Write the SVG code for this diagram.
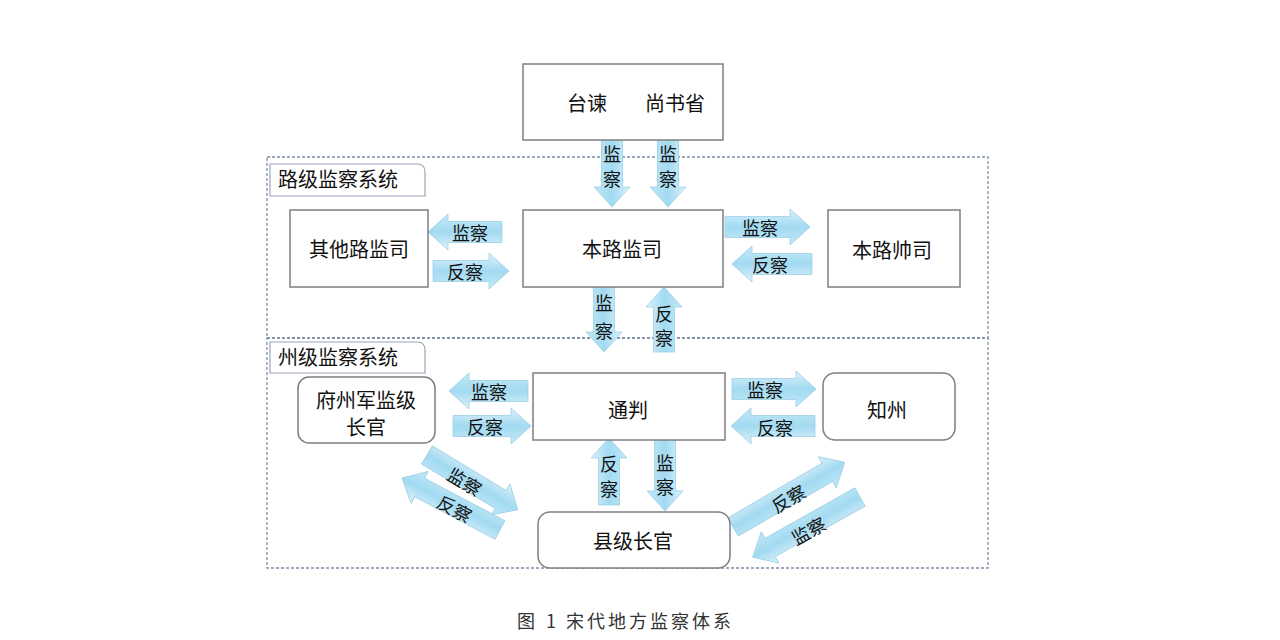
<svg xmlns="http://www.w3.org/2000/svg" width="1280" height="640" viewBox="0 0 1280 640">
<defs>
<linearGradient id="ag" x1="0" y1="0" x2="0" y2="1">
<stop offset="0" stop-color="#dcf2fb"/>
<stop offset="0.5" stop-color="#a2daf1"/>
<stop offset="1" stop-color="#c2e9f7"/>
</linearGradient>
<style>
.box{fill:#fff;stroke:#7f7f7f;stroke-width:1.5}
.sys{fill:none;stroke:#7d8ea8;stroke-width:1.3;stroke-dasharray:3 2}
.tab{fill:#fff;stroke:#9aa6b4;stroke-width:1.2}
.arr{fill:url(#ag);stroke:#9ccfe4;stroke-width:0.8}
.t{font-family:"Noto Sans CJK SC","Noto Sans",sans-serif;font-size:20px;fill:#111;text-anchor:middle;dominant-baseline:central}
.tl{font-family:"Noto Sans CJK SC","Noto Sans",sans-serif;font-size:20px;fill:#111}
.a{font-family:"Noto Sans CJK SC","Noto Sans",sans-serif;font-size:18px;fill:#111;text-anchor:middle;dominant-baseline:central}
.v{font-family:"Noto Sans CJK SC","Noto Sans",sans-serif;font-size:18px;fill:#111;text-anchor:middle}
.cap{font-family:"Noto Sans CJK SC","Noto Sans",sans-serif;font-size:18px;fill:#333}
</style>
</defs>
<rect width="1280" height="640" fill="#fff"/>

<g id="systems">
<rect class="sys" x="267" y="157" width="721" height="181"/>
<rect class="sys" x="267" y="338" width="721" height="230"/>
<path class="tab" d="M270,196 V164 H417 Q425,164 425,172 V196 Z"/>
<text class="tl" x="278" y="187">路级监察系统</text>
<path class="tab" d="M270,373 V342 H417 Q425,342 425,350 V373 Z"/>
<text class="tl" x="278" y="365">州级监察系统</text>
</g>

<g id="connectors">
<path class="arr" transform="translate(612,140) rotate(90)" d="M0,-10.5 H47 V-18 L67,0 L47,18 V10.5 H0 Z"/>
<path class="arr" transform="translate(668,140) rotate(90)" d="M0,-10.5 H47 V-18 L67,0 L47,18 V10.5 H0 Z"/>
<path class="arr" transform="translate(502,232) rotate(180)" d="M0,-10.5 H54 V-18 L74,0 L54,18 V10.5 H0 Z"/>
<path class="arr" transform="translate(433,271)" d="M0,-10.5 H56 V-18 L76,0 L56,18 V10.5 H0 Z"/>
<path class="arr" transform="translate(725,227)" d="M0,-10.5 H65 V-18 L85,0 L65,18 V10.5 H0 Z"/>
<path class="arr" transform="translate(812,264) rotate(180)" d="M0,-10.5 H60 V-18 L80,0 L60,18 V10.5 H0 Z"/>
<path class="arr" transform="translate(604,287) rotate(90)" d="M0,-10.5 H45 V-18 L65,0 L45,18 V10.5 H0 Z"/>
<path class="arr" transform="translate(664,352) rotate(-90)" d="M0,-10.5 H45 V-18 L65,0 L45,18 V10.5 H0 Z"/>
<path class="arr" transform="translate(528,391) rotate(180)" d="M0,-10.5 H59 V-18 L79,0 L59,18 V10.5 H0 Z"/>
<path class="arr" transform="translate(453,426)" d="M0,-10.5 H58 V-18 L78,0 L58,18 V10.5 H0 Z"/>
<path class="arr" transform="translate(732,389)" d="M0,-10.5 H64 V-18 L84,0 L64,18 V10.5 H0 Z"/>
<path class="arr" transform="translate(815,426) rotate(180)" d="M0,-10.5 H64 V-18 L84,0 L64,18 V10.5 H0 Z"/>
<path class="arr" transform="translate(609,505) rotate(-90)" d="M0,-10.5 H47 V-18 L67,0 L47,18 V10.5 H0 Z"/>
<path class="arr" transform="translate(665,440) rotate(90)" d="M0,-10.5 H51 V-18 L71,0 L51,18 V10.5 H0 Z"/>
<path class="arr" transform="translate(427,455) rotate(31.1)" d="M0,-10.5 H86 V-18 L106,0 L86,18 V10.5 H0 Z"/>
<path class="arr" transform="translate(500,530) rotate(207.9)" d="M0,-10.5 H91 V-18 L111,0 L91,18 V10.5 H0 Z"/>
<path class="arr" transform="translate(733,527) rotate(-30.1)" d="M0,-10.5 H109 V-18 L129,0 L109,18 V10.5 H0 Z"/>
<path class="arr" transform="translate(860,497) rotate(150.7)" d="M0,-10.5 H103 V-18 L123,0 L103,18 V10.5 H0 Z"/>

<text class="v" x="612" y="161">监<tspan x="612" dy="25">察</tspan></text>
<text class="v" x="668" y="161">监<tspan x="668" dy="25">察</tspan></text>
<text class="a" x="470" y="232">监察</text>
<text class="a" x="465" y="271">反察</text>
<text class="a" x="760" y="227">监察</text>
<text class="a" x="770" y="264">反察</text>
<text class="v" x="604" y="310">监<tspan x="604" dy="28">察</tspan></text>
<text class="v" x="664" y="321">反<tspan x="664" dy="24">察</tspan></text>
<text class="a" x="489" y="391">监察</text>
<text class="a" x="485" y="426">反察</text>
<text class="a" x="765" y="389">监察</text>
<text class="a" x="775" y="427">反察</text>
<text class="v" x="609" y="471">反<tspan x="609" dy="25">察</tspan></text>
<text class="v" x="665" y="470">监<tspan x="665" dy="24">察</tspan></text>
<text class="a" transform="translate(465,481) rotate(31)">监察</text>
<text class="a" transform="translate(455,508) rotate(28)">反察</text>
<text class="a" transform="translate(788,498) rotate(-30)">反察</text>
<text class="a" transform="translate(808,530) rotate(-29)">监察</text>
</g>

<g id="taijian">
<rect class="box" x="523" y="64" width="200" height="76"/>
<text class="tl" x="567" y="111">台谏</text>
<text class="tl" x="645" y="111">尚书省</text>
</g>
<g id="qitalu">
<rect class="box" x="290" y="210" width="138" height="77"/>
<text class="t" x="359" y="248">其他路监司</text>
</g>
<g id="benlujiansi">
<rect class="box" x="523" y="210" width="200" height="77"/>
<text class="t" x="622" y="248">本路监司</text>
</g>
<g id="benlushuaisi">
<rect class="box" x="828" y="210" width="132" height="77"/>
<text class="t" x="892" y="249">本路帅司</text>
</g>
<g id="fuzhoujun">
<rect class="box" x="298" y="377" width="137" height="66" rx="11"/>
<text class="t" x="366" y="399">府州军监级</text>
<text class="t" x="366" y="426">长官</text>
</g>
<g id="tongpan">
<rect class="box" x="533" y="373" width="192" height="67"/>
<text class="t" x="628" y="409">通判</text>
</g>
<g id="zhizhou">
<rect class="box" x="823" y="373" width="132" height="67" rx="12"/>
<text class="t" x="887" y="409">知州</text>
</g>
<g id="xianji">
<rect class="box" x="538" y="512" width="192" height="56" rx="12"/>
<text class="t" x="633" y="540">县级长官</text>
</g>

<text class="cap" x="517" y="628">图</text>
<text class="cap" x="546" y="628" style="letter-spacing:3px">1 宋代地方监察体系</text>
</svg>
